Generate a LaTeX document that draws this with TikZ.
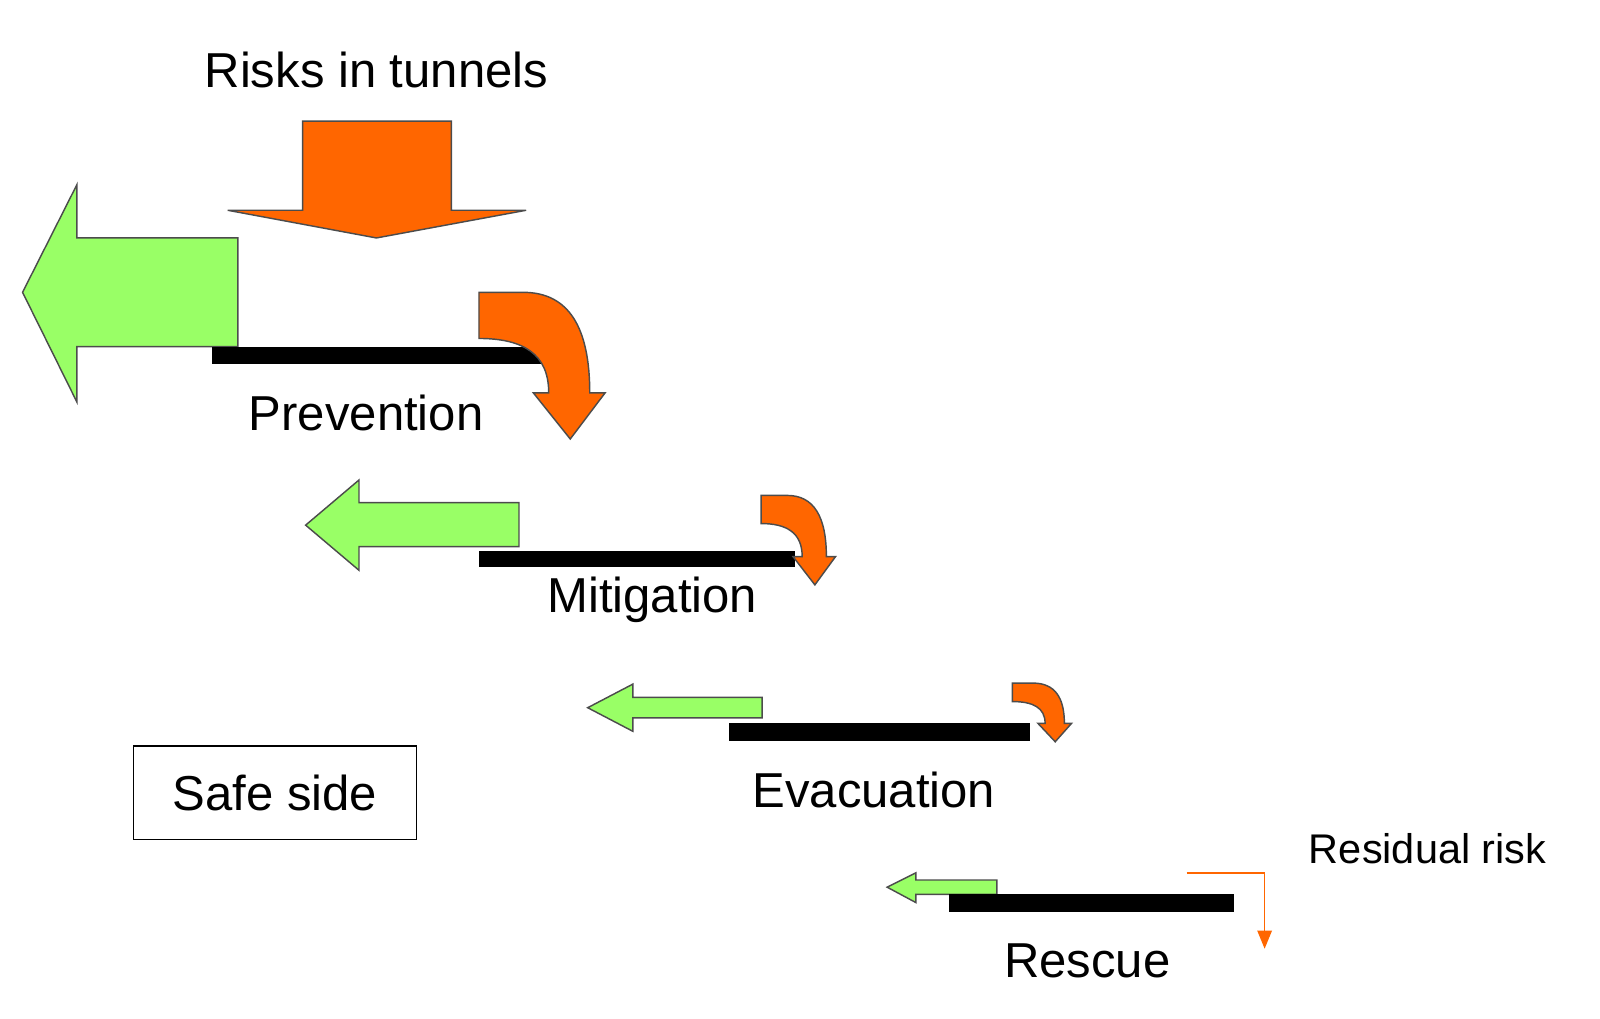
\documentclass[tikz,border=0pt]{standalone}
\usepackage{fontspec}
\setmainfont{Liberation Sans}
\usetikzlibrary{arrows.meta,positioning}
\definecolor{riskorange}{RGB}{255,102,0}
\definecolor{safegreen}{RGB}{153,255,102}
\newcommand{\curlyarrow}[3]{%
  \begin{scope}[shift={#1}, xscale=#2, yscale=#3]
    \draw[risk] (0,0) -- (43,0) .. controls (88,0) and (108,35) .. (108,98)
      -- (123,98) -- (89,143) -- (53,98) -- (68,98)
      .. controls (68,60) and (43,45) .. (0,45) -- cycle;
  \end{scope}}
\begin{document}
\begin{tikzpicture}[
    x=0.01cm, y=-0.01cm,
    risk/.style={draw=black!70, thin, fill=riskorange},
    safe/.style={draw=black!70, thin, fill=safegreen},
    bar/.style={fill=black},
    label/.style={font=\fontsize{13.6}{16}\selectfont, inner sep=0pt}
]
    \useasboundingbox (0,0) rectangle (1560,993);
    % Title and incoming risk
    \node[label] (title) at (367,68) {Risks in tunnels};
    \draw[risk] (295,118) -- (440,118) -- (440,205) -- (513,205) -- (367,232)
      -- (222,205) -- (295,205) -- cycle;

    % Prevention
    \draw[safe] (22,285) -- (75,180) -- (75,232) -- (232,232) -- (232,338)
      -- (75,338) -- (75,392) -- cycle;
    \fill[bar] (207,338) rectangle (528,355);
    \node[label] (prevention) at (357,403) {Prevention};
    \curlyarrow{(467,285)}{1}{1}

    % Mitigation
    \draw[safe] (298,512) -- (350,468) -- (350,490) -- (506,490) -- (506,533)
      -- (350,533) -- (350,556) -- cycle;
    \fill[bar] (467,537) rectangle (775,553);
    \node[label] (mitigation) at (636,585) {Mitigation};
    \curlyarrow{(742,483)}{0.59}{0.61}

    % Evacuation
    \draw[safe] (573,690) -- (617,667) -- (617,680) -- (743,680) -- (743,700)
      -- (617,700) -- (617,713) -- cycle;
    \fill[bar] (711,705) rectangle (1004,722);
    \node[label] (evacuation) at (852,770) {Evacuation};
    \curlyarrow{(987,666)}{0.47}{0.40}

    % Rescue
    \draw[safe] (865,865) -- (893,851) -- (893,858) -- (972,858) -- (972,872)
      -- (893,872) -- (893,880) -- cycle;
    \fill[bar] (925,872) rectangle (1203,889);
    \node[label] (rescue) at (1060,937) {Rescue};

    % Residual risk
    \node[font=\fontsize{11.5}{14}\selectfont, inner sep=0pt] (residual) at (1392,827) {Residual risk};
    \coordinate (resstart) at (1157,851);
    \coordinate (resend) at (1233,925);
    \draw[riskorange, thin, -{Triangle[length=5pt,width=4pt]}] (resstart) -| (resend);

    % Safe side
    \node[draw, thin, label, minimum width=2.76cm,
      minimum height=0.91cm] (safeside) at (268,773) {Safe side};
\end{tikzpicture}
\end{document}
